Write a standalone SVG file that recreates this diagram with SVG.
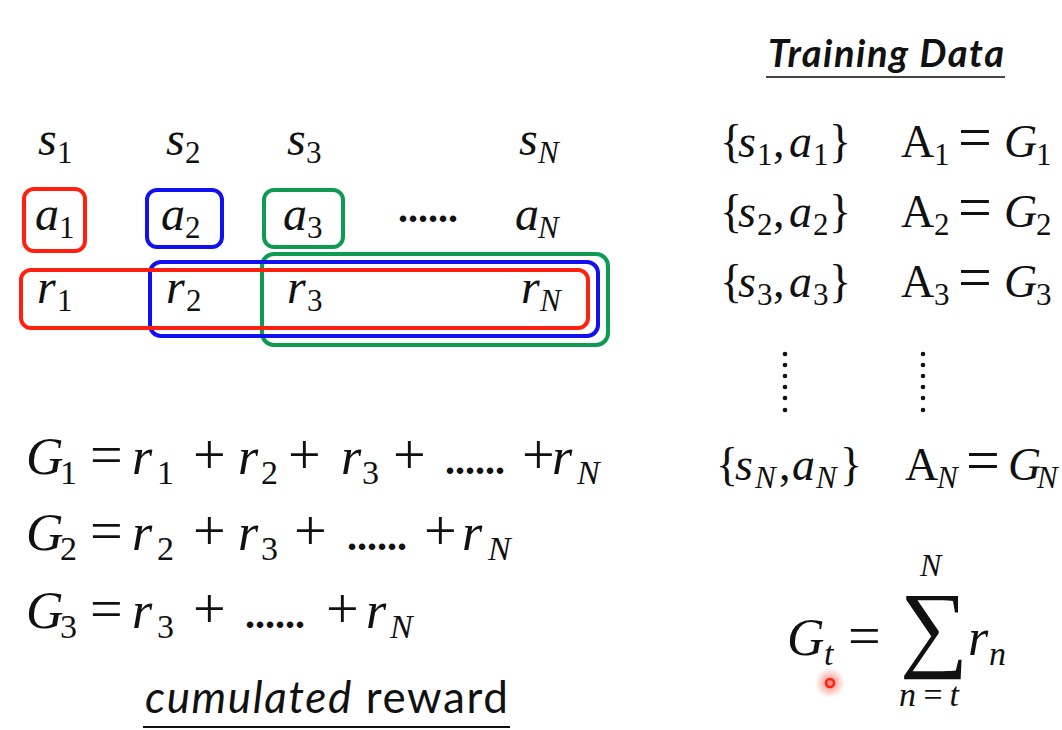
<svg xmlns="http://www.w3.org/2000/svg" width="1062" height="730" viewBox="0 0 1062 730">
<style>
.m{font-family:"Liberation Serif","Times New Roman",serif;fill:#111}
.i{font-style:italic}
.r{font-size:48px}
.rs{font-size:31px;font-style:normal}
.rn{font-size:31px}
.e{font-size:52px}
.es{font-size:34px;font-style:normal}
.en{font-size:34px}
.op{font-style:normal;font-size:58px}
.dots{font-style:normal;font-size:40px;font-weight:bold}
.t{font-size:46px}
.ts{font-size:31px;font-style:normal}
.tn{font-size:31px}
.teq{font-size:60px}
.sans{font-family:Lato,"Open Sans","Liberation Sans",sans-serif;fill:#111}
.box{fill:none;stroke-width:4}
</style>
<defs>
<radialGradient id="glow">
<stop offset="0" stop-color="#ff3020" stop-opacity="0.6"/>
<stop offset="1" stop-color="#ff3020" stop-opacity="0"/>
</radialGradient>
</defs>
<rect width="1062" height="730" fill="#fff"/>

<g id="boxes">
<rect class="box" x="262" y="254" width="346" height="91" rx="12" stroke="#0f9a52"/>
<rect class="box" x="150" y="262" width="448" height="74" rx="11" stroke="#1010f0"/>
<rect class="box" x="21" y="270" width="567" height="58" rx="10" stroke="#ff2010"/>
<rect class="box" x="24" y="189" width="61" height="62" rx="10" stroke="#ff2010"/>
<rect class="box" x="147" y="190" width="75" height="57" rx="10" stroke="#1010f0"/>
<rect class="box" x="264" y="190" width="79" height="57" rx="10" stroke="#0f9a52"/>
</g>

<g id="states">
<text class="m r i" y="155"><tspan x="38">s</tspan><tspan class="rs" x="57" dy="8">1</tspan></text>
<text class="m r i" y="155"><tspan x="166">s</tspan><tspan class="rs" x="185" dy="8">2</tspan></text>
<text class="m r i" y="155"><tspan x="287">s</tspan><tspan class="rs" x="306" dy="8">3</tspan></text>
<text class="m r i" y="155"><tspan x="519">s</tspan><tspan class="rn" x="538" dy="8">N</tspan></text>
</g>

<g id="actions">
<text class="m r i" y="230"><tspan x="35">a</tspan><tspan class="rs" x="59" dy="8">1</tspan></text>
<text class="m r i" y="230"><tspan x="161">a</tspan><tspan class="rs" x="185" dy="8">2</tspan></text>
<text class="m r i" y="230"><tspan x="283">a</tspan><tspan class="rs" x="307" dy="8">3</tspan></text>
<text class="m dots" x="398" y="222">......</text>
<text class="m r i" y="230"><tspan x="515">a</tspan><tspan class="rn" x="538" dy="8">N</tspan></text>
</g>

<g id="rewards">
<text class="m r i" y="303"><tspan x="37">r</tspan><tspan class="rs" x="57" dy="8">1</tspan></text>
<text class="m r i" y="303"><tspan x="166">r</tspan><tspan class="rs" x="186" dy="8">2</tspan></text>
<text class="m r i" y="303"><tspan x="287">r</tspan><tspan class="rs" x="307" dy="8">3</tspan></text>
<text class="m r i" y="303"><tspan x="521">r</tspan><tspan class="rn" x="540" dy="8">N</tspan></text>
</g>

<g id="eq-g1">
<text class="m e i" y="474"><tspan x="26">G</tspan><tspan class="es" x="60" dy="10">1</tspan><tspan class="op" x="90" dy="-10">=</tspan><tspan x="132">r</tspan><tspan class="es" x="157" dy="10">1</tspan><tspan class="op" x="193" dy="-10">+</tspan><tspan x="238">r</tspan><tspan class="es" x="261" dy="10">2</tspan><tspan class="op" x="288" dy="-10">+</tspan><tspan x="341">r</tspan><tspan class="es" x="362" dy="10">3</tspan><tspan class="op" x="393" dy="-10">+</tspan><tspan class="dots" x="445">......</tspan><tspan class="op" x="522">+</tspan><tspan x="552">r</tspan><tspan class="en" x="577" dy="10">N</tspan></text>
</g>
<g id="eq-g2">
<text class="m e i" y="550"><tspan x="26">G</tspan><tspan class="es" x="60" dy="10">2</tspan><tspan class="op" x="90" dy="-10">=</tspan><tspan x="132">r</tspan><tspan class="es" x="157" dy="10">2</tspan><tspan class="op" x="193" dy="-10">+</tspan><tspan x="238">r</tspan><tspan class="es" x="261" dy="10">3</tspan><tspan class="op" x="294" dy="-10">+</tspan><tspan class="dots" x="347">......</tspan><tspan class="op" x="424">+</tspan><tspan x="462">r</tspan><tspan class="en" x="488" dy="10">N</tspan></text>
</g>
<g id="eq-g3">
<text class="m e i" y="628"><tspan x="26">G</tspan><tspan class="es" x="60" dy="10">3</tspan><tspan class="op" x="90" dy="-10">=</tspan><tspan x="132">r</tspan><tspan class="es" x="157" dy="10">3</tspan><tspan class="op" x="193" dy="-10">+</tspan><tspan class="dots" x="245">......</tspan><tspan class="op" x="326">+</tspan><tspan x="366">r</tspan><tspan class="en" x="390" dy="10">N</tspan></text>
</g>

<g id="cumulated-reward">
<text class="sans" x="145" y="713" font-size="44" textLength="363"><tspan font-style="italic">cumulated</tspan> reward</text>
<line x1="143" y1="727" x2="510" y2="727" stroke="#111" stroke-width="2"/>
</g>

<g id="training-data-title">
<text class="sans" x="768" y="67" font-size="38" font-weight="bold" font-style="italic" textLength="236">Training Data</text>
<line x1="766" y1="77" x2="1005" y2="77" stroke="#444" stroke-width="2"/>
</g>

<g id="td-row1">
<text class="m t" y="157"><tspan x="720">{</tspan><tspan class="i" x="738">s</tspan><tspan class="ts" x="757" dy="8">1</tspan><tspan x="773" dy="-8">,</tspan><tspan class="i" x="789">a</tspan><tspan class="ts" x="813" dy="8">1</tspan><tspan x="829" dy="-8">}</tspan><tspan x="901">A</tspan><tspan class="ts" x="934" dy="8">1</tspan><tspan class="teq" x="958" dy="-8">=</tspan><tspan class="i" x="1004">G</tspan><tspan class="ts" x="1036" dy="8">1</tspan></text>
</g>
<g id="td-row2">
<text class="m t" y="227"><tspan x="720">{</tspan><tspan class="i" x="738">s</tspan><tspan class="ts" x="757" dy="8">2</tspan><tspan x="773" dy="-8">,</tspan><tspan class="i" x="789">a</tspan><tspan class="ts" x="813" dy="8">2</tspan><tspan x="829" dy="-8">}</tspan><tspan x="901">A</tspan><tspan class="ts" x="934" dy="8">2</tspan><tspan class="teq" x="958" dy="-8">=</tspan><tspan class="i" x="1004">G</tspan><tspan class="ts" x="1036" dy="8">2</tspan></text>
</g>
<g id="td-row3">
<text class="m t" y="297"><tspan x="720">{</tspan><tspan class="i" x="738">s</tspan><tspan class="ts" x="757" dy="8">3</tspan><tspan x="773" dy="-8">,</tspan><tspan class="i" x="789">a</tspan><tspan class="ts" x="813" dy="8">3</tspan><tspan x="829" dy="-8">}</tspan><tspan x="901">A</tspan><tspan class="ts" x="934" dy="8">3</tspan><tspan class="teq" x="958" dy="-8">=</tspan><tspan class="i" x="1004">G</tspan><tspan class="ts" x="1036" dy="8">3</tspan></text>
</g>
<g id="td-vdots" fill="#111">
<circle cx="785" cy="354" r="2.3"/><circle cx="785" cy="365" r="2.3"/><circle cx="785" cy="376" r="2.3"/><circle cx="785" cy="387" r="2.3"/><circle cx="785" cy="398" r="2.3"/><circle cx="785" cy="410" r="2.3"/>
<circle cx="923" cy="354" r="2.3"/><circle cx="923" cy="365" r="2.3"/><circle cx="923" cy="376" r="2.3"/><circle cx="923" cy="387" r="2.3"/><circle cx="923" cy="398" r="2.3"/><circle cx="923" cy="410" r="2.3"/>
</g>
<g id="td-rowN">
<text class="m t" y="480"><tspan x="716">{</tspan><tspan class="i" x="735">s</tspan><tspan class="i tn" x="755" dy="8">N</tspan><tspan x="779" dy="-8">,</tspan><tspan class="i" x="792">a</tspan><tspan class="i tn" x="816" dy="8">N</tspan><tspan x="840" dy="-8">}</tspan><tspan x="905">A</tspan><tspan class="i tn" x="937" dy="8">N</tspan><tspan class="teq" x="966" dy="-8">=</tspan><tspan class="i" x="1008">G</tspan><tspan class="i tn" x="1037" dy="8">N</tspan></text>
</g>

<g id="gt-sum">
<text class="m" y="655" font-size="52"><tspan class="i" x="787">G</tspan><tspan class="i" x="824" dy="10" font-size="34">t</tspan><tspan x="848" dy="-10" font-size="58">=</tspan><tspan class="i" x="968">r</tspan><tspan class="i" x="989" dy="10" font-size="34">n</tspan></text>
<text class="m" x="900" y="659" font-size="96">∑</text>
<text class="m i" x="920" y="576" font-size="32">N</text>
<text class="m i" x="899" y="706" font-size="34" textLength="60">n=t</text>
</g>

<g id="pointer">
<circle cx="830" cy="683" r="15" fill="url(#glow)"/>
<circle cx="830" cy="683" r="4" fill="none" stroke="#ff2010" stroke-width="2.5"/>
</g>
</svg>
